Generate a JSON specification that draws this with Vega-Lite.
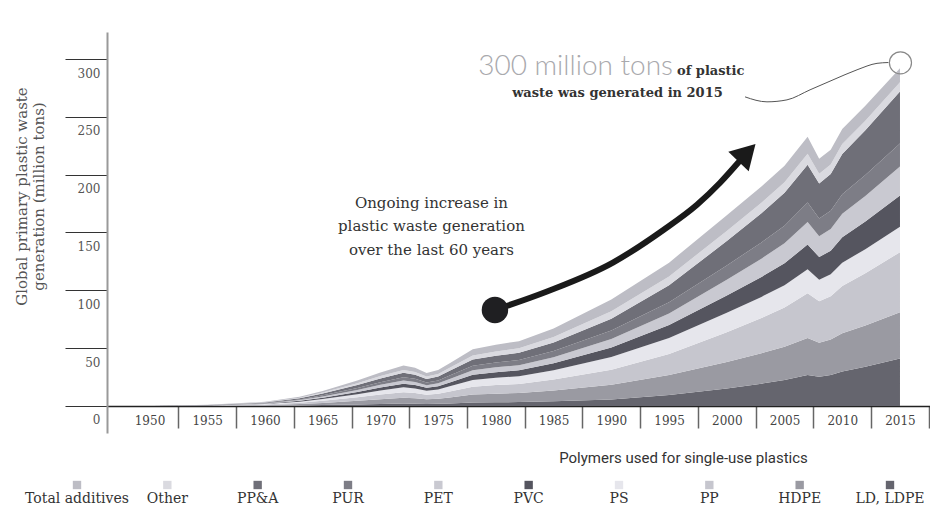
{
  "$schema": "https://vega.github.io/schema/vega-lite/v6.json",
  "padding": {"left": 14, "top": 32, "right": 0, "bottom": 0},
  "background": "white",
  "spacing": 18,
  "config": {"view": {"stroke": null}, "font": "DejaVu Serif"},
  "datasets": {
    "waste": [
      {"year": 1950, "LD, LDPE": 0, "HDPE": 0, "PP": 0, "PS": 0, "PVC": 0, "PET": 0, "PUR": 0, "PP&A": 0, "Other": 0, "Total additives": 0},
      {"year": 1955, "LD, LDPE": 0.06, "HDPE": 0.14, "PP": 0.14, "PS": 0.12, "PVC": 0.09, "PET": 0.08, "PUR": 0.08, "PP&A": 0.11, "Other": 0.07, "Total additives": 0.11},
      {"year": 1960, "LD, LDPE": 0.21, "HDPE": 0.49, "PP": 0.49, "PS": 0.42, "PVC": 0.32, "PET": 0.28, "PUR": 0.28, "PP&A": 0.39, "Other": 0.25, "Total additives": 0.39},
      {"year": 1963, "LD, LDPE": 0.48, "HDPE": 1.12, "PP": 1.12, "PS": 0.96, "PVC": 0.72, "PET": 0.64, "PUR": 0.64, "PP&A": 0.88, "Other": 0.56, "Total additives": 0.88},
      {"year": 1965, "LD, LDPE": 0.78, "HDPE": 1.82, "PP": 1.82, "PS": 1.56, "PVC": 1.17, "PET": 1.04, "PUR": 1.04, "PP&A": 1.43, "Other": 0.91, "Total additives": 1.43},
      {"year": 1968, "LD, LDPE": 1.32, "HDPE": 3.08, "PP": 3.08, "PS": 2.64, "PVC": 1.98, "PET": 1.76, "PUR": 1.76, "PP&A": 2.42, "Other": 1.54, "Total additives": 2.42},
      {"year": 1970, "LD, LDPE": 1.74, "HDPE": 4.06, "PP": 4.06, "PS": 3.48, "PVC": 2.61, "PET": 2.32, "PUR": 2.32, "PP&A": 3.19, "Other": 2.03, "Total additives": 3.19},
      {"year": 1972, "LD, LDPE": 2.1, "HDPE": 4.9, "PP": 4.9, "PS": 4.2, "PVC": 3.15, "PET": 2.8, "PUR": 2.8, "PP&A": 3.85, "Other": 2.45, "Total additives": 3.85},
      {"year": 1973, "LD, LDPE": 1.98, "HDPE": 4.62, "PP": 4.62, "PS": 3.96, "PVC": 2.97, "PET": 2.64, "PUR": 2.64, "PP&A": 3.63, "Other": 2.31, "Total additives": 3.63},
      {"year": 1974, "LD, LDPE": 1.71, "HDPE": 3.99, "PP": 3.99, "PS": 3.42, "PVC": 2.57, "PET": 2.28, "PUR": 2.28, "PP&A": 3.14, "Other": 2.0, "Total additives": 3.14},
      {"year": 1975, "LD, LDPE": 1.86, "HDPE": 4.34, "PP": 4.34, "PS": 3.72, "PVC": 2.79, "PET": 2.48, "PUR": 2.48, "PP&A": 3.41, "Other": 2.17, "Total additives": 3.41},
      {"year": 1976, "LD, LDPE": 2.22, "HDPE": 5.18, "PP": 5.18, "PS": 4.44, "PVC": 3.33, "PET": 2.96, "PUR": 2.96, "PP&A": 4.07, "Other": 2.59, "Total additives": 4.07},
      {"year": 1978, "LD, LDPE": 2.94, "HDPE": 6.86, "PP": 6.86, "PS": 5.88, "PVC": 4.41, "PET": 3.92, "PUR": 3.92, "PP&A": 5.39, "Other": 3.43, "Total additives": 5.39},
      {"year": 1980, "LD, LDPE": 3.18, "HDPE": 7.42, "PP": 7.42, "PS": 6.36, "PVC": 4.77, "PET": 4.24, "PUR": 4.24, "PP&A": 5.83, "Other": 3.71, "Total additives": 5.83},
      {"year": 1982, "LD, LDPE": 3.36, "HDPE": 7.84, "PP": 7.84, "PS": 6.72, "PVC": 5.04, "PET": 4.48, "PUR": 4.48, "PP&A": 6.16, "Other": 3.92, "Total additives": 6.16},
      {"year": 1985, "LD, LDPE": 4.02, "HDPE": 9.38, "PP": 9.38, "PS": 8.04, "PVC": 6.03, "PET": 5.36, "PUR": 5.36, "PP&A": 7.37, "Other": 4.69, "Total additives": 7.37},
      {"year": 1990, "LD, LDPE": 5.52, "HDPE": 12.88, "PP": 12.88, "PS": 11.04, "PVC": 8.28, "PET": 7.36, "PUR": 7.36, "PP&A": 10.12, "Other": 6.44, "Total additives": 10.12},
      {"year": 1995, "LD, LDPE": 9.42, "HDPE": 17.29, "PP": 18.3, "PS": 13.76, "PVC": 11.21, "PET": 10.07, "PUR": 9.62, "PP&A": 14.73, "Other": 7.61, "Total additives": 11.93},
      {"year": 2000, "LD, LDPE": 15.18, "HDPE": 22.9, "PP": 25.61, "PS": 16.83, "PVC": 14.98, "PET": 13.6, "PUR": 12.41, "PP&A": 21.05, "Other": 8.71, "Total additives": 13.6},
      {"year": 2003, "LD, LDPE": 19.3, "HDPE": 26.3, "PP": 30.36, "PS": 18.35, "PVC": 17.29, "PET": 15.79, "PUR": 14.02, "PP&A": 25.25, "Other": 9.04, "Total additives": 14.08},
      {"year": 2005, "LD, LDPE": 22.46, "HDPE": 28.75, "PP": 33.86, "PS": 19.34, "PVC": 18.97, "PET": 17.39, "PUR": 15.14, "PP&A": 28.37, "Other": 9.19, "Total additives": 14.27},
      {"year": 2007, "LD, LDPE": 26.66, "HDPE": 32.15, "PP": 38.63, "PS": 20.83, "PVC": 21.3, "PET": 19.6, "PUR": 16.73, "PP&A": 32.6, "Other": 9.51, "Total additives": 14.7},
      {"year": 2008, "LD, LDPE": 25.17, "HDPE": 29.49, "PP": 35.82, "PS": 18.75, "PVC": 19.56, "PET": 18.04, "PUR": 15.28, "PP&A": 30.32, "Other": 8.35, "Total additives": 12.9},
      {"year": 2009, "LD, LDPE": 26.82, "HDPE": 30.57, "PP": 37.5, "PS": 19.05, "PVC": 20.31, "PET": 18.78, "PUR": 15.74, "PP&A": 31.83, "Other": 8.28, "Total additives": 12.79},
      {"year": 2010, "LD, LDPE": 29.76, "HDPE": 33.02, "PP": 40.9, "PS": 20.16, "PVC": 21.98, "PET": 20.35, "PUR": 16.9, "PP&A": 34.85, "Other": 8.54, "Total additives": 13.15},
      {"year": 2012, "LD, LDPE": 33.9, "HDPE": 35.72, "PP": 45.08, "PS": 20.9, "PVC": 23.87, "PET": 22.18, "PUR": 18.04, "PP&A": 38.66, "Other": 8.37, "Total additives": 12.82},
      {"year": 2015, "LD, LDPE": 41, "HDPE": 40, "PP": 52, "PS": 22, "PVC": 27, "PET": 25, "PUR": 20, "PP&A": 45, "Other": 8, "Total additives": 12}
    ],
    "polymers": [
      {"polymer": "Total additives"}, {"polymer": "Other"}, {"polymer": "PP&A"}, {"polymer": "PUR"}, {"polymer": "PET"},
      {"polymer": "PVC"}, {"polymer": "PS"}, {"polymer": "PP"}, {"polymer": "HDPE"}, {"polymer": "LD, LDPE"}
    ],
    "arrow": [
      {"year": 1979.92, "value": 83.0},
      {"year": 1984.43, "value": 99.0},
      {"year": 1990.14, "value": 124.0},
      {"year": 1994.48, "value": 152.0},
      {"year": 1997.42, "value": 174.0},
      {"year": 1999.42, "value": 193.0},
      {"year": 2001.0, "value": 210.5}
    ],
    "arrowhead": [{"year": 2001.75, "value": 219.0}],
    "dot": [{"year": 1979.92, "value": 83.0}],
    "connector": [
      {"year": 2001.58, "value": 267.3},
      {"year": 2003.48, "value": 263.0},
      {"year": 2005.21, "value": 264.7},
      {"year": 2007.21, "value": 273.4},
      {"year": 2009.2, "value": 282.0},
      {"year": 2011.28, "value": 290.7},
      {"year": 2013.01, "value": 296.3},
      {"year": 2014.0, "value": 297.0}
    ],
    "ring": [{"year": 2015.04, "value": 296.7}],
    "big": [{"year": 1995.34, "value": 286.3, "label": "300 million tons"}],
    "small1": [{"year": 1995.69, "value": 286.3, "label": "of plastic"}],
    "small2": [{"year": 1990.53, "value": 267.3, "label": "waste was generated in 2015"}],
    "ongoing": [{"year": 1974.42, "value": 175.6, "label": "Ongoing increase in\nplastic waste generation\nover the last 60 years"}]
  },
  "vconcat": [
    {
      "width": 823,
      "height": 401,
      "layer": [
        {
          "data": {"name": "waste"},
          "transform": [
            {"fold": ["LD, LDPE", "HDPE", "PP", "PS", "PVC", "PET", "PUR", "PP&A", "Other", "Total additives"], "as": ["polymer", "value"]},
            {"window": [{"op": "row_number", "as": "layer_rank"}], "groupby": ["year"]}
          ],
          "mark": {"type": "area", "interpolate": "linear"},
          "encoding": {
            "x": {
              "field": "year", "type": "quantitative",
              "scale": {"domain": [1946.32, 2017.6], "nice": false, "zero": false},
              "axis": {
                "title": null, "values": [1950, 1955, 1960, 1965, 1970, 1975, 1980, 1985, 1990, 1995, 2000, 2005, 2010, 2015],
                "format": "d", "grid": false, "offset": -27,
                "domainColor": "#222", "domainWidth": 1.5,
                "tickSize": 22, "tickColor": "#666", "tickWidth": 1.5, "tickOffset": 28.87,
                "labelOffset": -28.87, "labelPadding": -13, "labelFont": "DejaVu Serif", "labelFontSize": 12,
                "labelColor": "#444", "labelFlush": false, "labelOverlap": false
              }
            },
            "y": {
              "field": "value", "type": "quantitative", "stack": "zero",
              "scale": {"domain": [-23.4, 323.4], "nice": false, "zero": false},
              "axis": {
                "values": [0, 50, 100, 150, 200, 250, 300], "grid": false,
                "domainColor": "#999", "domainWidth": 2,
                "tickSize": 42, "tickColor": "#333", "tickWidth": 1.2,
                "labelPadding": -35, "labelOffset": 14, "labelAlign": "right", "labelBaseline": "middle",
                "labelFont": "DejaVu Serif", "labelFontSize": 12, "labelColor": "#555",
                "title": ["Global primary plastic waste", "generation (million tons)"],
                "titleFont": "DejaVu Serif", "titleFontSize": 15, "titleFontWeight": "normal", "titleColor": "#555",
                "titleLineHeight": 17, "titleAngle": -90, "titleX": -86, "titleY": 164,
                "titleAlign": "center", "titleBaseline": "middle"
              }
            },
            "order": {"field": "layer_rank", "type": "quantitative", "sort": "ascending"},
            "color": {
              "field": "polymer", "type": "nominal",
              "scale": {
                "domain": ["Total additives", "Other", "PP&A", "PUR", "PET", "PVC", "PS", "PP", "HDPE", "LD, LDPE"],
                "range": ["#bdbdc5", "#dadae0", "#6f6f78", "#7d7d86", "#c9c9d1", "#55555f", "#e6e6ec", "#c6c6ce", "#9a9aa2", "#65656e"]
              },
              "legend": null
            }
          }
        },
        {
          "data": {"name": "arrow"},
          "mark": {"type": "line", "interpolate": "monotone", "color": "#1a1a1a", "strokeWidth": 6, "strokeCap": "round"},
          "encoding": {"x": {"field": "year", "type": "quantitative"}, "y": {"field": "value", "type": "quantitative"}}
        },
        {
          "data": {"name": "arrowhead"},
          "mark": {"type": "point", "shape": "triangle-up", "angle": 44, "size": 800, "filled": true, "color": "#1a1a1a", "opacity": 1},
          "encoding": {"x": {"field": "year", "type": "quantitative"}, "y": {"field": "value", "type": "quantitative"}}
        },
        {
          "data": {"name": "dot"},
          "mark": {"type": "circle", "size": 700, "color": "#1f1f22", "opacity": 1},
          "encoding": {"x": {"field": "year", "type": "quantitative"}, "y": {"field": "value", "type": "quantitative"}}
        },
        {
          "data": {"name": "connector"},
          "mark": {"type": "line", "interpolate": "monotone", "color": "#555", "strokeWidth": 1},
          "encoding": {"x": {"field": "year", "type": "quantitative"}, "y": {"field": "value", "type": "quantitative"}}
        },
        {
          "data": {"name": "ring"},
          "mark": {"type": "point", "shape": "circle", "size": 490, "filled": false, "color": "#888", "strokeWidth": 1.2, "opacity": 1},
          "encoding": {"x": {"field": "year", "type": "quantitative"}, "y": {"field": "value", "type": "quantitative"}}
        },
        {
          "data": {"name": "big"},
          "mark": {"type": "text", "align": "right", "baseline": "alphabetic", "font": "Lato", "fontWeight": 300, "fontSize": 28, "color": "#a9a9ad"},
          "encoding": {"x": {"field": "year", "type": "quantitative"}, "y": {"field": "value", "type": "quantitative"}, "text": {"field": "label"}}
        },
        {
          "data": {"name": "small1"},
          "mark": {"type": "text", "align": "left", "baseline": "alphabetic", "font": "DejaVu Serif", "fontWeight": "bold", "fontSize": 13, "color": "#333"},
          "encoding": {"x": {"field": "year", "type": "quantitative"}, "y": {"field": "value", "type": "quantitative"}, "text": {"field": "label"}}
        },
        {
          "data": {"name": "small2"},
          "mark": {"type": "text", "align": "center", "baseline": "alphabetic", "font": "DejaVu Serif", "fontWeight": "bold", "fontSize": 13, "color": "#333"},
          "encoding": {"x": {"field": "year", "type": "quantitative"}, "y": {"field": "value", "type": "quantitative"}, "text": {"field": "label"}}
        },
        {
          "data": {"name": "ongoing"},
          "mark": {"type": "text", "align": "center", "baseline": "middle", "lineBreak": "\n", "lineHeight": 23.5, "font": "DejaVu Serif", "fontSize": 15, "color": "#333"},
          "encoding": {"x": {"field": "year", "type": "quantitative"}, "y": {"field": "value", "type": "quantitative"}, "text": {"field": "label"}}
        }
      ]
    },
    {
      "width": 823,
      "height": 30,
      "data": {"name": "polymers"},
      "title": {"text": "Polymers used for single-use plastics", "anchor": "middle", "dx": 165, "font": "Roboto", "fontSize": 15, "fontWeight": "normal", "color": "#333", "offset": 4},
      "layer": [
        {
          "mark": {"type": "square", "size": 70, "opacity": 1},
          "encoding": {
            "x": {"field": "polymer", "type": "nominal", "scale": {"type": "point", "padding": 0, "range": [-30, 783], "domain": ["Total additives", "Other", "PP&A", "PUR", "PET", "PVC", "PS", "PP", "HDPE", "LD, LDPE"]}, "axis": null},
            "color": {
              "field": "polymer", "type": "nominal",
              "scale": {
                "domain": ["Total additives", "Other", "PP&A", "PUR", "PET", "PVC", "PS", "PP", "HDPE", "LD, LDPE"],
                "range": ["#bdbdc5", "#dadae0", "#6f6f78", "#7d7d86", "#c9c9d1", "#55555f", "#e6e6ec", "#c6c6ce", "#9a9aa2", "#65656e"]
              },
              "legend": null
            }
          }
        },
        {
          "mark": {"type": "text", "dy": 14, "font": "DejaVu Serif", "fontSize": 14, "color": "#333"},
          "encoding": {
            "x": {"field": "polymer", "type": "nominal", "scale": {"type": "point", "padding": 0, "range": [-30, 783], "domain": ["Total additives", "Other", "PP&A", "PUR", "PET", "PVC", "PS", "PP", "HDPE", "LD, LDPE"]}, "axis": null},
            "text": {"field": "polymer"}
          }
        }
      ]
    }
  ]
}
